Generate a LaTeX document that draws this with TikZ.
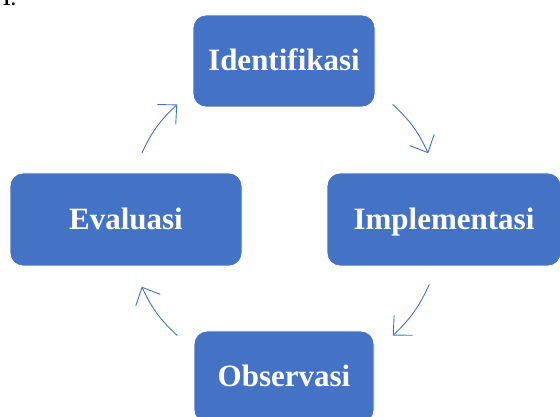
\documentclass[tikz,border=0pt]{standalone}
\usepackage{fontspec}
\setmainfont{Liberation Serif}
\usetikzlibrary{arrows.meta,calc}
\definecolor{phaseblue}{HTML}{4472C4}

\begin{document}
\begin{tikzpicture}[x=1pt,y=1pt]
\tikzstyle{every node}+=[inner sep=0pt]
\tikzstyle{phase}=[draw=white, line width=0.8pt, fill=phaseblue, rounded corners=13pt, text=white, text height=20pt, text depth=0pt, font=\fontsize{31}{37}\selectfont\bfseries]
\tikzstyle{cyclearrow}=[draw=phaseblue, line width=0.9pt, -{Straight Barb[length=14pt,width=27pt]}, bend left=11]
\useasboundingbox (0,0) rectangle (560,417);
% number cut off by the top edge
\node [anchor=base west, font=\fontsize{18}{20}\selectfont\bfseries] (num) at (2,411) {1.};
% the four phases
\node [phase, minimum width=182pt, minimum height=92pt] (ident) at (284,356) {Identifikasi};
\node [phase, minimum width=234pt, minimum height=93pt] (impl) at (444,197.5) {Implementasi};
\node [phase, minimum width=180pt, minimum height=92pt] (obs) at (284,40) {Observasi};
\node [phase, minimum width=232pt, minimum height=93pt] (eval) at (126,197.5) {Evaluasi};
% arrows round the cycle
\coordinate (ctr) at (285,197);
\coordinate (a1) at ($(ctr)+(155:158)$);
\coordinate (b1) at ($(ctr)+(133:158)$);
\coordinate (a2) at ($(ctr)+(47:158)$);
\coordinate (b2) at ($(ctr)+(25:158)$);
\coordinate (a3) at ($(ctr)+(-24:158)$);
\coordinate (b3) at ($(ctr)+(-47:158)$);
\coordinate (a4) at ($(ctr)+(-133:158)$);
\coordinate (b4) at ($(ctr)+(-155:158)$);
\draw [cyclearrow] (a1) to (b1);
\draw [cyclearrow] (a2) to (b2);
\draw [cyclearrow] (a3) to (b3);
\draw [cyclearrow] (a4) to (b4);
\end{tikzpicture}
\end{document}
